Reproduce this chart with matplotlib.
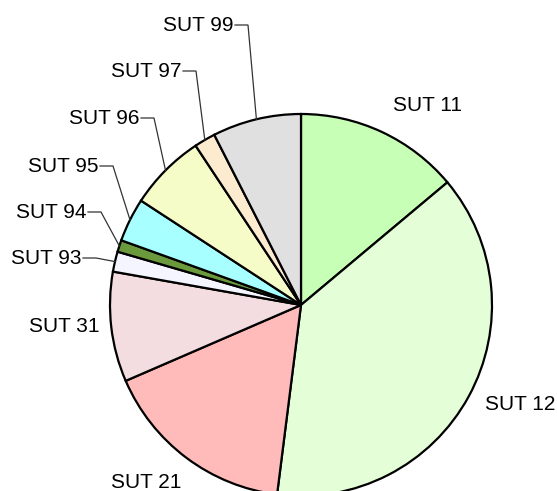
import matplotlib
matplotlib.use("Agg")
import matplotlib.pyplot as plt
import numpy as np

# slice shares (percent), clockwise from 12 o'clock
labels = ['SUT 11', 'SUT 12', 'SUT 21', 'SUT 31', 'SUT 93',
          'SUT 94', 'SUT 95', 'SUT 96', 'SUT 97', 'SUT 99']
shares = [13.9, 38.1, 16.5, 9.3, 1.7, 1.0, 3.7, 6.5, 1.8, 7.5]
colors = ['#c8ffb6', '#e4ffd8', '#ffbaba', '#f4dde0', '#f5f5ff',
          '#6b9a3c', '#a8ffff', '#f6fcc8', '#fdebd0', '#e0e0e0']

plt.rcParams['font.family'] = ['Liberation Sans', 'DejaVu Sans']

W, H = 557, 491
cx, cy, R = 301, 305, 191   # pie centre / radius in pixels


def px(x, y):
    # pixel position -> data units (radius = 1)
    return (x - cx) / R, (cy - y) / R


fig = plt.figure(figsize=(W / 100, H / 100), dpi=100)
ax = fig.add_axes([0, 0, 1, 1])

wedges, _ = ax.pie(shares, colors=colors, startangle=90, counterclock=False,
                   radius=1, wedgeprops=dict(edgecolor='black', linewidth=1.6))

ax.set_aspect('auto')
ax.set_xlim(-cx / R, (W - cx) / R)
ax.set_ylim(-(H - cy) / R, cy / R)
ax.axis('off')

# big slices: plain labels
plain = {'SUT 11': (427, 105), 'SUT 12': (520, 405),
         'SUT 21': (146, 482), 'SUT 31': (64, 327)}
for name, (x, y) in plain.items():
    ax.text(*px(x, y), name, ha='center', va='center', fontsize=15)

# small slices: labels stacked on the left with leader lines
ends = {'SUT 99': (235, 25), 'SUT 97': (183, 71), 'SUT 96': (141, 118),
        'SUT 95': (100, 166), 'SUT 94': (88, 212), 'SUT 93': (83, 258)}
for w, name in zip(wedges, labels):
    if name not in ends:
        continue
    mid = np.deg2rad((w.theta1 + w.theta2) / 2)
    ex, ey = np.cos(mid), np.sin(mid)
    lx, ly = px(*ends[name])
    kx = lx + 13 / R
    ax.plot([lx, kx, ex], [ly, ly, ey], color='#333333', lw=0.9,
            solid_joinstyle='miter')
    ax.text(lx - 2 / R, ly, name, ha='right', va='center', fontsize=15)

fig.savefig('out.png', dpi=100, facecolor='white')
